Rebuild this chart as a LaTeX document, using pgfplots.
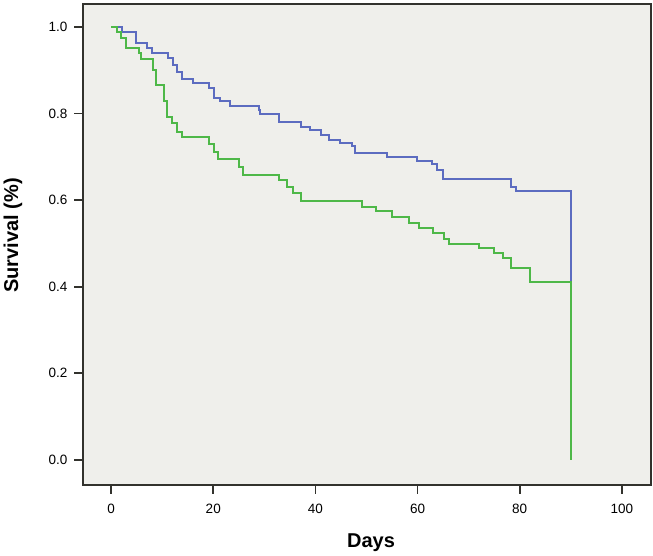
\documentclass[border=0pt]{standalone}
\usepackage{pgfplots}
\pgfplotsset{compat=1.18}
\usepackage{pgfplotstable}
\usepackage{fontspec}
\setmainfont{Liberation Sans}
\definecolor{kmblue}{RGB}{92,108,192}
\definecolor{kmgreen}{RGB}{78,184,72}
\definecolor{bgfill}{RGB}{239,239,235}
\definecolor{frame}{RGB}{50,50,45}
\pgfplotstableread{
day surv
0    1.000
2.1  0.988
4.9  0.962
7.0  0.951
8.0  0.939
11.2 0.928
12.1 0.912
12.9 0.897
13.9 0.880
16.1 0.870
19.1 0.858
20.1 0.835
21.4 0.828
23.2 0.818
28.9 0.808
29.2 0.799
32.8 0.780
37.1 0.770
39.0 0.761
41.0 0.751
42.6 0.740
44.9 0.733
47.2 0.725
47.8 0.708
54.1 0.700
59.9 0.691
62.9 0.684
63.9 0.670
65.0 0.648
78.2 0.631
79.2 0.620
90.1 0.412
}\bluedata
\pgfplotstableread{
day surv
0    1.000
1.1  0.988
1.9  0.974
2.9  0.951
5.4  0.939
5.8  0.925
8.3  0.901
8.8  0.866
10.3 0.828
10.9 0.793
11.9 0.777
12.9 0.758
13.9 0.745
19.1 0.730
20.1 0.712
21.0 0.694
25.0 0.677
25.9 0.658
32.8 0.647
34.5 0.631
35.7 0.616
37.1 0.597
49.2 0.584
51.8 0.574
55.0 0.561
58.3 0.548
60.3 0.535
63.1 0.524
65.2 0.510
66.1 0.499
72.0 0.489
75.0 0.477
76.8 0.466
78.2 0.443
82.0 0.412
90.1 0.000
}\greendata
\begin{document}
\begin{tikzpicture}
\begin{axis}[
  scale only axis,
  width=568pt, height=481pt,
  xmin=-5.5, xmax=105.7,
  ymin=-0.058, ymax=1.053,
  xtick={0,20,40,60,80,100},
  ytick={0,0.2,0.4,0.6,0.8,1.0},
  /pgf/number format/assume math mode=true,
  tick label style={font=\fontsize{13.5}{16}\selectfont, text=black},
  xticklabel style={yshift=-7pt},
  yticklabel style={xshift=-3pt, /pgf/number format/.cd, fixed, fixed zerofill, precision=1},
  tick align=outside,
  major tick length=9pt,
  tick style={line width=1.8pt, color=frame},
  axis line style={line width=1.8pt, color=frame},
  axis background/.style={fill=bgfill},
  xtick pos=bottom, ytick pos=left,
  xlabel={Days},
  ylabel={Survival (\%)},
  label style={font=\fontsize{20}{24}\selectfont\bfseries},
  xlabel style={at={(axis description cs:0.507,-0.1206)}, anchor=center},
  ylabel style={at={(axis description cs:-0.1232,0.519)}, anchor=center},
]
\addplot[const plot, color=kmblue, line width=2pt] table[x=day,y=surv] {\bluedata};
\addplot[const plot, color=kmgreen, line width=2pt] table[x=day,y=surv] {\greendata};
\coordinate (bl) at (rel axis cs:0,0);
\coordinate (tr) at (rel axis cs:1,1);
\end{axis}
\pgfresetboundingbox
\path[use as bounding box] ([xshift=-83pt,yshift=-71pt]bl) rectangle ([xshift=2pt,yshift=4pt]tr);
\end{tikzpicture}
\end{document}
